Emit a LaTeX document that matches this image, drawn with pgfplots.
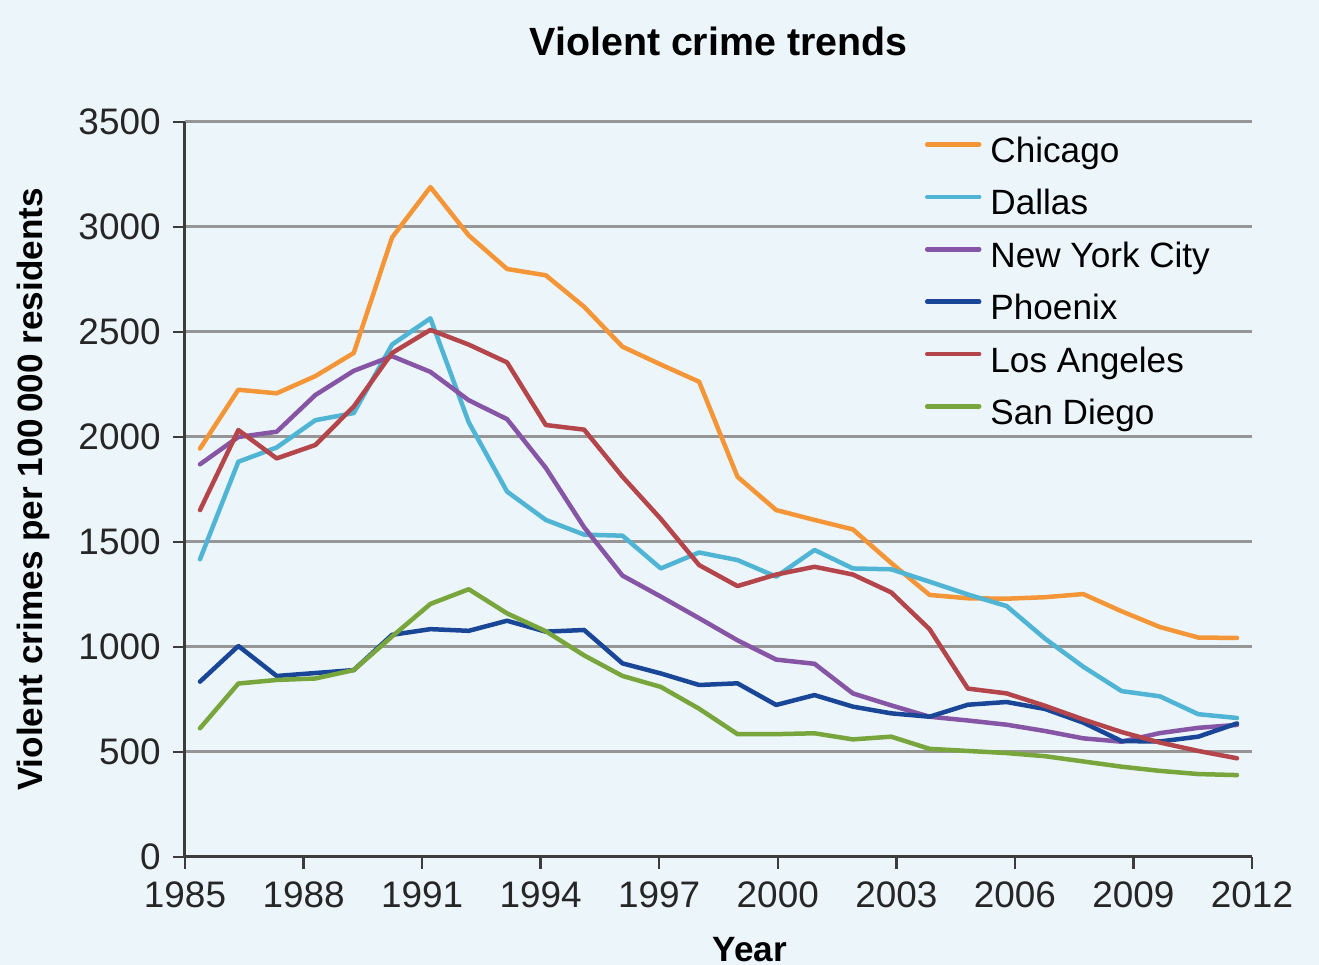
\documentclass[border=0pt]{standalone}
\usepackage{pgfplots}
\pgfplotsset{compat=1.18}
\usepackage{pgfplotstable}
\usepackage{fontspec}
\setmainfont{Liberation Sans}
\definecolor{bgblue}{RGB}{235,245,250}
\definecolor{cchi}{RGB}{244,150,55}
\definecolor{cdal}{RGB}{80,180,212}
\definecolor{cnyc}{RGB}{135,85,165}
\definecolor{cphx}{RGB}{25,70,150}
\definecolor{cla}{RGB}{180,70,75}
\definecolor{csd}{RGB}{120,165,60}
\definecolor{gridgray}{RGB}{150,150,150}
\definecolor{axisgray}{RGB}{60,60,60}

% x: plotted position of each yearly value; values in crimes per 100 000 residents
\pgfplotstableread{
x       chi   dal   nyc   phx   la    sd
1985.38 1945  1418  1870  835   1652  613
1986.35 2225  1882  2000  1005  2033  826
1987.32 2208  1950  2025  862   1898  843
1988.30 2290  2080  2200  876   1962  850
1989.27 2400  2114  2315  890   2145  890
1990.24 2950  2440  2385  1058  2400  1050
1991.21 3190  2565  2310  1085  2510  1205
1992.18 2960  2070  2175  1077  2440  1275
1993.15 2800  1740  2085  1125  2355  1160
1994.13 2770  1605  1853  1073  2057  1075
1995.10 2620  1535  1570  1081  2035  960
1996.07 2430  1530  1340  922   1811  862
1997.04 2345  1374  1240  874   1610  810
1998.01 2263  1450  1137  819   1390  706
1998.98 1811  1414  1032  827   1290  585
1999.96 1652  1335  940   724   1345  585
2000.93 1605  1462  920   771   1382  589
2001.90 1560  1374  779   716   1345  560
2002.87 1400  1370  722   684   1260  573
2003.84 1248  1311  668   668   1085  515
2004.81 1232  1250  650   725   802   505
2005.79 1230  1195  630   738   779   495
2006.76 1237  1040  600   705   720   480
2007.73 1252  906   565   640   655   455
2008.70 1170  790   549   552   595   430
2009.67 1095  765   590   550   545   410
2010.64 1045  680   615   573   505   395
2011.62 1043  662   629   636   470   390
}\crime

\begin{document}
\begin{tikzpicture}
\fill[bgblue, use as bounding box] (-18.5mm,-10.8mm) rectangle (113.4mm,85.7mm);
\begin{axis}[
  at={(0,0)}, anchor=south west,
  scale only axis, width=106.7mm, height=73.5mm,
  xmin=1985, xmax=2012, ymin=0, ymax=3500,
  xtick={1985,1988,...,2012}, ytick={0,500,...,3500},
  axis lines=left,
  axis line style={-, draw=axisgray, line width=0.3mm},
  tick align=outside, major tick length=1.2mm,
  tick style={draw=axisgray, line width=0.25mm},
  ymajorgrids, grid style={draw=gridgray, line width=0.3mm},
  /pgf/number format/1000 sep={},
  /pgf/number format/assume math mode=true,
  tick label style={font=\fontsize{10.5}{12}\selectfont, text=black!85},
  title={\fontsize{11.2}{13}\selectfont\bfseries Violent crime trends},
  every axis title/.style={at={(rel axis cs:0.5,1)}, anchor=base, yshift=6.6mm},
  ylabel={Violent crimes per 100\,000 residents},
  every axis y label/.style={at={(rel axis cs:-0.1425,0.5)}, rotate=90, anchor=center, font=\fontsize{10}{12}\selectfont\bfseries},
  xlabel={Year},
  every axis x label/.style={at={(rel axis cs:0.5295,0)}, anchor=base, yshift=-10.5mm, font=\fontsize{10}{12}\selectfont\bfseries},
  legend style={at={(rel axis cs:0.6935,0.9803)}, anchor=north west, draw=none, fill=none,
    inner sep=0pt, outer sep=0pt, row sep=1.84mm, column sep=0.9mm,
    font=\fontsize{10}{12}\selectfont,
    nodes={inner sep=0pt, text height=2.6mm, text depth=0.8mm}},
  legend cell align=left,
  legend image code/.code={\draw[#1, line width=0.45mm] (0mm,0.9mm) -- (5.2mm,0.9mm);},
  every axis plot/.append style={line width=0.45mm, line join=round, line cap=round, mark=none},
]
\addplot[cchi] table[x=x, y=chi] {\crime};
\addlegendentry{Chicago}
\addplot[cdal] table[x=x, y=dal] {\crime};
\addlegendentry{Dallas}
\addplot[cnyc] table[x=x, y=nyc] {\crime};
\addlegendentry{New York City}
\addplot[cphx] table[x=x, y=phx] {\crime};
\addlegendentry{Phoenix}
\addplot[cla] table[x=x, y=la] {\crime};
\addlegendentry{Los Angeles}
\addplot[csd] table[x=x, y=sd] {\crime};
\addlegendentry{San Diego}
\end{axis}
\end{tikzpicture}
\end{document}
